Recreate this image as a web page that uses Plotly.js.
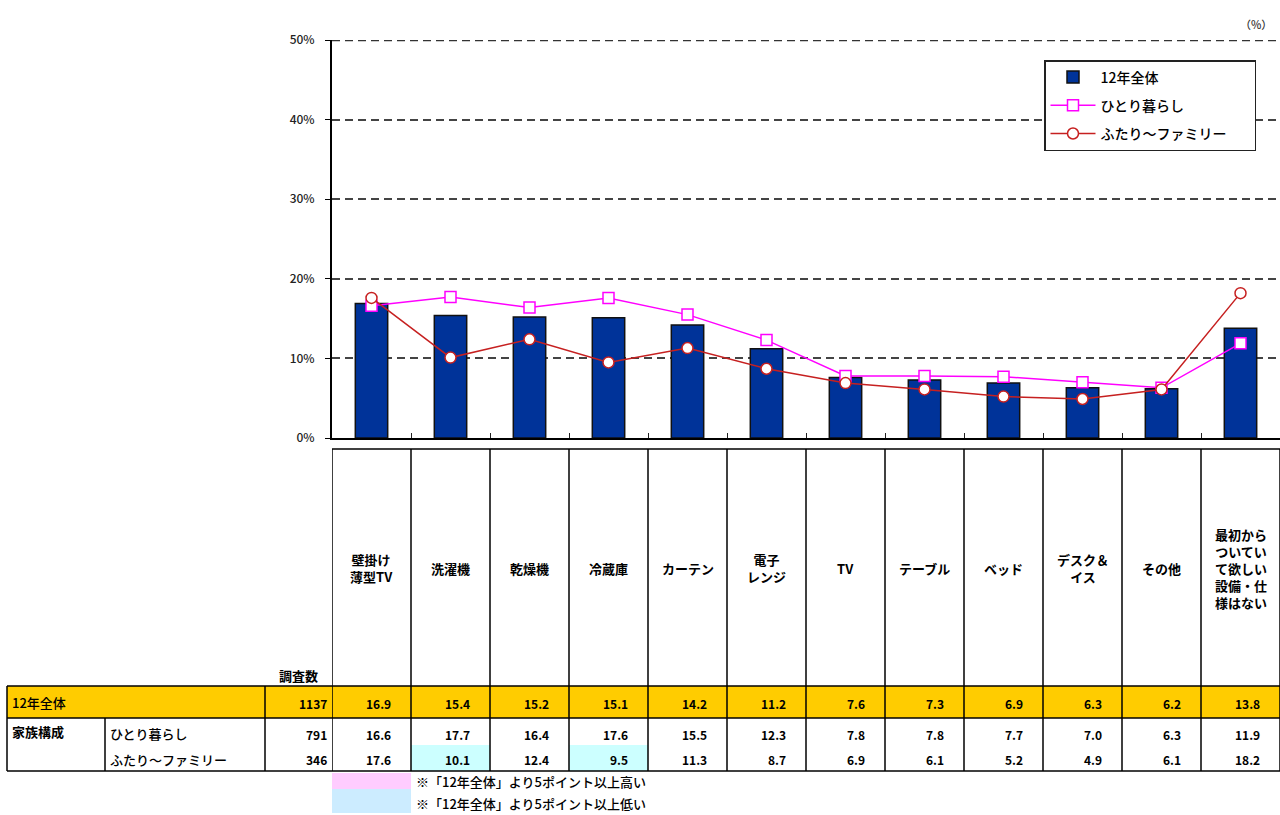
<!DOCTYPE html>
<html><head><meta charset="utf-8">
<script src="https://cdn.plot.ly/plotly-3.0.1.min.js"></script>
<style>html,body{margin:0;padding:0;background:#fff}</style>
</head><body><div id="chart" style="width:1280px;height:815px"></div>
<script>
// ---- data ----
const categories = ['壁掛け<br>薄型TV','洗濯機','乾燥機','冷蔵庫','カーテン','電子<br>レンジ','TV','テーブル','ベッド','デスク＆<br>イス','その他','最初から<br>ついてい<br>て欲しい<br>設備・仕<br>様はない'];
const seriesNames = ['12年全体','ひとり暮らし','ふたり～ファミリー'];
const totalAll = [16.9, 15.4, 15.2, 15.1, 14.2, 11.2, 7.6, 7.3, 6.9, 6.3, 6.2, 13.8];
const single   = [16.6, 17.7, 16.4, 17.6, 15.5, 12.3, 7.8, 7.8, 7.7, 7.0, 6.3, 11.9];
const family   = [17.6, 10.1, 12.4, 9.5, 11.3, 8.7, 6.9, 6.1, 5.2, 4.9, 6.1, 18.2];
const sampleSizes = [1137, 791, 346];
const sampleLabel = '調査数';
const groupLabel = '家族構成';
const noteHigh = '※「12年全体」より5ポイント以上高い';
const noteLow = '※「12年全体」より5ポイント以上低い';
const unitLabel = '（%）';
const yTicks = [0, 10, 20, 30, 40, 50];

// ---- geometry helpers (pixel -> paper) ----
const W = 1280, H = 815, ML = 332, MR = 0, MT = 40, MB = 377;
const PW = W - ML - MR, PH = H - MT - MB;
const py = p => (H - MB - p) / PH;
const px = p => (p - ML) / PW;
const FONT = '"Noto Sans CJK JP", "Noto Sans", sans-serif';
const n = categories.length;
const pad = '\u00a0'.repeat(7);

const traces = [
  {type:'bar', x:categories, y:totalAll, name:seriesNames[0], width:0.41, legendgroup:'a',
   marker:{color:'#003399', line:{color:'#111', width:1.5}}},
  {type:'scatter', mode:'lines+markers', x:categories, y:single, name:seriesNames[1], legendgroup:'b',
   line:{color:'#FF00FF', width:1.5},
   marker:{symbol:'square', size:11, color:'#fff', line:{color:'#FF00FF', width:1.5}}},
  {type:'scatter', mode:'lines+markers', x:categories, y:family, name:seriesNames[2] + pad, legendgroup:'c',
   line:{color:'#C62020', width:1.5},
   marker:{symbol:'circle', size:11, color:'#fff', line:{color:'#C62020', width:1.5}}}
];

const shapes = [];
const ann = [];
const black = {color:'#000', width:1.5};
function rectP(x0,x1,y0,y1,fill,line){ shapes.push({type:'rect',xref:'paper',yref:'paper',x0:px(x0),x1:px(x1),y0:py(y1),y1:py(y0),fillcolor:fill,line:line||{width:0},layer:'above'}); }
function rectX(i0,i1,y0,y1,fill,line){ shapes.push({type:'rect',xref:'x',yref:'paper',x0:i0,x1:i1,y0:py(y1),y1:py(y0),fillcolor:fill,line:line||{width:0},layer:'above'}); }
function hline(x0,x1,y){ shapes.push({type:'line',xref:'paper',yref:'paper',x0:px(x0),x1:px(x1),y0:py(y),y1:py(y),line:black}); }
function vlineP(x,y0,y1){ shapes.push({type:'line',xref:'paper',yref:'paper',x0:px(x),x1:px(x),y0:py(y0),y1:py(y1),line:black}); }
function vlineX(xi,y0,y1){ shapes.push({type:'line',xref:'x',yref:'paper',x0:xi,x1:xi,y0:py(y0),y1:py(y1),line:black}); }

// top gridline at the maximum of the value axis
shapes.push({type:'line', xref:'paper', yref:'y', x0:0, x1:1, y0:yTicks[yTicks.length-1], y1:yTicks[yTicks.length-1],
             line:{color:'#333', width:2.5, dash:'8px,5px'}, layer:'below'});

// fills
rectP(7, 1280, 686, 718, '#FFCC00');
const rowsVals = [single, family];
const rowY = [[718,745],[745,771]];
rowsVals.forEach((vals, r) => {
  vals.forEach((v, i) => {
    const d = v - totalAll[i];
    if (d >= 5) rectX(i-0.5, i+0.5, rowY[r][0], rowY[r][1], '#FFCCFF');
    else if (d <= -5) rectX(i-0.5, i+0.5, rowY[r][0], rowY[r][1], '#CCFFFF');
  });
});
// note boxes
rectX(-0.5, 0.5, 773, 789, '#FFCCFF');
rectX(-0.5, 0.5, 789, 813, '#CCECFF');

// table lines
hline(332, 1280, 449);
hline(7, 1280, 686);
hline(7, 1280, 718);
hline(7, 1280, 771);
for (let i = 0; i <= n; i++) vlineX(i - 0.5, 449, 771);
vlineP(7, 686, 771);
vlineP(265, 686, 771);
vlineP(105, 718, 771);

// text
const tf = (s, c, w) => ({family: FONT, size: s, color: c || '#000', weight: w || 500});
categories.forEach((c, i) => {
  ann.push({xref:'x', yref:'paper', x:i, y:py(568), text:c, showarrow:false, font:tf(13, '#000', 700), align:'center', xanchor:'center', yanchor:'middle'});
  ann.push({xref:'x', yref:'paper', x:i, y:py(703), text:totalAll[i].toFixed(1), showarrow:false, font:tf(12, '#000', 700), xanchor:'right', xshift:21, yanchor:'middle'});
  ann.push({xref:'x', yref:'paper', x:i, y:py(734), text:single[i].toFixed(1), showarrow:false, font:tf(12, '#000', 700), xanchor:'right', xshift:21, yanchor:'middle'});
  ann.push({xref:'x', yref:'paper', x:i, y:py(759), text:family[i].toFixed(1), showarrow:false, font:tf(12, '#000', 700), xanchor:'right', xshift:21, yanchor:'middle'});
});
const leftText = (x, y, t, anchor, f) => ann.push({xref:'paper', yref:'paper', x:px(x), y:py(y), text:t, showarrow:false, font:f||tf(13), xanchor:anchor, yanchor:'middle'});
leftText(298, 675, sampleLabel, 'center', tf(13, '#000', 700));
leftText(10, 702, seriesNames[0], 'left');
leftText(329, 703, String(sampleSizes[0]), 'right', tf(12, '#000', 700));
leftText(10, 731, groupLabel, 'left', tf(13, '#000', 700));
leftText(108, 733, seriesNames[1], 'left');
leftText(108, 759, seriesNames[2], 'left');
leftText(329, 734, String(sampleSizes[1]), 'right', tf(12, '#000', 700));
leftText(329, 759, String(sampleSizes[2]), 'right', tf(12, '#000', 700));
leftText(414, 781, noteHigh, 'left');
leftText(414, 803, noteLow, 'left');
leftText(1274, 24, unitLabel, 'right', tf(11, '#333'));

const layout = {
  width: W, height: H,
  margin: {l: ML, r: MR, t: MT, b: MB, pad: 0},
  paper_bgcolor: '#fff', plot_bgcolor: '#fff',
  font: {family: FONT, color: '#000'},
  showlegend: true,
  legend: {x: px(1044), y: py(60), xanchor: 'left', yanchor: 'top', bgcolor: '#fff',
           bordercolor: '#222', borderwidth: 1.5, font: {family: FONT, size: 14, color: '#000', weight: 500},
           tracegroupgap: 7, itemwidth: 45},
  xaxis: {type: 'category', range: [-0.5, n - 0.5], showticklabels: false,
          showline: true, linecolor: '#000', linewidth: 2, ticks: 'inside', tickson: 'boundaries',
          ticklen: 5, tickcolor: '#222', showgrid: false, zeroline: false, fixedrange: true},
  yaxis: {range: [0, 50], tickvals: yTicks, ticktext: yTicks.map(v => v + '%'),
          showline: true, linecolor: '#000', linewidth: 2, ticks: 'outside', ticklen: 5, tickcolor: '#000',
          tickfont: {family: FONT, size: 12, color: '#222', weight: 500}, ticklabelstandoff: 8,
          showgrid: true, gridcolor: '#444', gridwidth: 2, griddash: '8px,5px', zeroline: false, fixedrange: true},
  bargap: 0.5,
  shapes: shapes,
  annotations: ann
};
Plotly.newPlot('chart', traces, layout, {displayModeBar: false, staticPlot: true});
</script></body></html>
